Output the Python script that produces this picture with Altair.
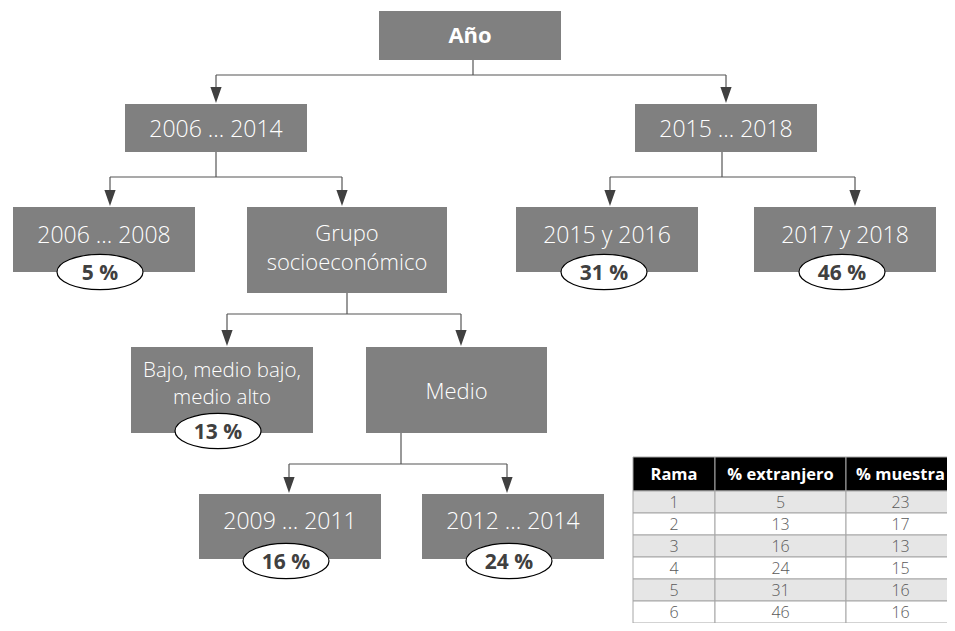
import altair as alt
import pandas as pd

# ---------------- data ----------------
node_ids = ["root", "a", "b", "a1", "a2", "b1", "b2", "a21", "a22", "a221", "a222"]
node_lines = [
    ["Año"],
    ["2006 ... 2014"],
    ["2015 ... 2018"],
    ["2006 ... 2008"],
    ["Grupo", "socioeconómico"],
    ["2015 y 2016"],
    ["2017 y 2018"],
    ["Bajo, medio bajo,", "medio alto"],
    ["Medio"],
    ["2009 ... 2011"],
    ["2012 ... 2014"],
]
children = {
    "root": ["a", "b"],
    "a": ["a1", "a2"],
    "b": ["b1", "b2"],
    "a2": ["a21", "a22"],
    "a22": ["a221", "a222"],
}
leaf_ids = ["a1", "a21", "a221", "a222", "b1", "b2"]
leaf_pct = [5, 13, 16, 24, 31, 46]

table_header = ["Rama", "% extranjero", "% muestra"]
rama = [1, 2, 3, 4, 5, 6]
pct_extranjero = [5, 13, 16, 24, 31, 46]
pct_muestra = [23, 17, 13, 15, 16, 16]

# ---------------- layout (page pixels) ----------------
box = {
    "root": (379, 561, 11, 60),
    "a": (125, 307, 104, 152),
    "b": (635, 817, 104, 152),
    "a1": (13, 195, 207, 272),
    "a2": (247, 447, 207, 293),
    "b1": (516, 698, 207, 272),
    "b2": (754, 936, 207, 272),
    "a21": (131, 313, 347, 433),
    "a22": (366, 547, 347, 433),
    "a221": (199, 381, 494, 559),
    "a222": (422, 604, 494, 559),
}
text_base = {
    "root": [43], "a": [137], "b": [137], "a1": [243], "a2": [241, 270],
    "b1": [243], "b2": [243], "a21": [377, 404], "a22": [399],
    "a221": [529], "a222": [529],
}
text_size = {"a2": 22, "a21": 20.5, "a22": 22}   # others 23
ellipse_c = {"a1": (100, 272), "a21": (218, 431), "a221": (286, 561),
             "a222": (509, 561), "b1": (604, 272), "b2": (842, 272)}
stem_x = {"root": 473, "a": 216, "b": 722, "a2": 347, "a22": 401}
bar_y = {"root": 75, "a": 177, "b": 177, "a2": 314, "a22": 464}
arrow_x = {"a": 216, "b": 726, "a1": 110, "a2": 342, "b1": 610, "b2": 855,
           "a21": 227, "a22": 461, "a221": 289, "a222": 507}
ARROW_H = 16

tbl_cols = [633, 715, 846, 955]
tbl_top = 457
tbl_head_h = 34
tbl_row_h = 22

# ---------------- build tables ----------------
rects = pd.DataFrame([{"id": i, "x0": box[i][0], "x1": box[i][1],
                       "y0": box[i][2], "y1": box[i][3]} for i in node_ids])

txt_rows = []
for nid, lines in zip(node_ids, node_lines):
    cx = (box[nid][0] + box[nid][1]) / 2
    for line, yb in zip(lines, text_base[nid]):
        txt_rows.append({"id": nid, "text": line, "x": cx, "y": yb,
                         "fs": text_size.get(nid, 23)})
txt = pd.DataFrame(txt_rows)
txt_bold = txt[txt["id"] == "root"]
txt_norm = txt[txt["id"] != "root"]

rule_rows = []
arrow_rows = []
for p, kids in children.items():
    pb = box[p][3]
    rule_rows.append({"x": stem_x[p], "x2": stem_x[p], "y": pb, "y2": bar_y[p]})
    xs = [arrow_x[k] for k in kids]
    rule_rows.append({"x": min(xs), "x2": max(xs), "y": bar_y[p], "y2": bar_y[p]})
    for k in kids:
        tip = box[k][2] - 1
        rule_rows.append({"x": arrow_x[k], "x2": arrow_x[k], "y": bar_y[p], "y2": tip - ARROW_H + 2})
        arrow_rows.append({"x": arrow_x[k], "y": tip - ARROW_H / 2})
rules = pd.DataFrame(rule_rows)
arrows = pd.DataFrame(arrow_rows)

ell = pd.DataFrame([{"x": ellipse_c[i][0], "y": ellipse_c[i][1],
                     "ty": ellipse_c[i][1] + 8, "label": f"{v} %"}
                    for i, v in zip(leaf_ids, leaf_pct)])

cells = []
ctext = []
for c in range(3):
    cx = (tbl_cols[c] + tbl_cols[c + 1]) / 2
    cells.append({"x0": tbl_cols[c], "x1": tbl_cols[c + 1], "y0": tbl_top,
                  "y1": tbl_top + tbl_head_h, "fill": "#000000"})
    ctext.append({"x": cx, "y": tbl_top + tbl_head_h / 2 + 6, "text": table_header[c], "head": True})
for r, vals in enumerate(zip(rama, pct_extranjero, pct_muestra)):
    y0 = tbl_top + tbl_head_h + r * tbl_row_h
    for c in range(3):
        cx = (tbl_cols[c] + tbl_cols[c + 1]) / 2
        cells.append({"x0": tbl_cols[c], "x1": tbl_cols[c + 1], "y0": y0,
                      "y1": y0 + tbl_row_h, "fill": "#e6e6e6" if r % 2 == 0 else "#ffffff"})
        ctext.append({"x": cx, "y": y0 + tbl_row_h / 2 + 5.5, "text": str(vals[c]), "head": False})
cells = pd.DataFrame(cells)
ctext = pd.DataFrame(ctext)

# ---------------- scales ----------------
W, H = 939, 615
XS = alt.Scale(domain=[8, 8 + W], range=[0, W], nice=False, zero=False)
YS = alt.Scale(domain=[8, 8 + H], range=[0, H], nice=False, zero=False)


def X(f):
    return alt.X(f, type="quantitative", scale=XS, axis=None)


def Y(f):
    return alt.Y(f, type="quantitative", scale=YS, axis=None)


FONT = "Open Sans"

rule_layer = alt.Chart(rules).mark_rule(color="#555555", strokeWidth=1.2).encode(
    x=X("x"), x2="x2", y=Y("y"), y2="y2")

arrow_path = "M -0.7 -1 L 0.7 -1 L 0 1 Z"
arrow_layer = alt.Chart(arrows).mark_point(
    shape=arrow_path, size=(ARROW_H ** 2), filled=True, fill="#404040",
    strokeWidth=0, opacity=1).encode(x=X("x"), y=Y("y"))

box_layer = alt.Chart(rects).mark_rect(color="#808080").encode(
    x=X("x0"), x2="x1", y=Y("y0"), y2="y1")

text_layer = alt.Chart(txt_norm).mark_text(
    font=FONT, fontWeight=300, color="#ffffff", align="center", baseline="alphabetic").encode(
    x=X("x"), y=Y("y"), text="text:N", size=alt.Size("fs:Q", scale=None))
bold_layer = alt.Chart(txt_bold).mark_text(
    font=FONT, fontSize=22, fontWeight="bold", color="#ffffff", align="center",
    baseline="alphabetic").encode(x=X("x"), y=Y("y"), text="text:N")

b, k = 0.41, 0.5523
bk = round(b * k, 4)
ell_path = (f"M 1 0 C 1 {bk} {k} {b} 0 {b} C {-k} {b} -1 {bk} -1 0 "
            f"C -1 {-bk} {-k} {-b} 0 {-b} C {k} {-b} 1 {-bk} 1 0 Z")
ell_layer = alt.Chart(ell).mark_point(
    shape=ell_path, size=86 ** 2, filled=True, fill="#ffffff", stroke="#000000",
    strokeWidth=1.2, opacity=1).encode(x=X("x"), y=Y("y"))
ell_text = alt.Chart(ell).mark_text(
    font=FONT, fontSize=21, fontWeight="bold", color="#404040", align="center",
    baseline="alphabetic").encode(x=X("x"), y=Y("ty"), text="label:N")

cell_layer = alt.Chart(cells).mark_rect(stroke="#a6a6a6", strokeWidth=1).encode(
    x=X("x0"), x2="x1", y=Y("y0"), y2="y1", fill=alt.Fill("fill:N", scale=None))
head_text = alt.Chart(ctext[ctext["head"]]).mark_text(
    font=FONT, fontSize=16.5, fontWeight="bold", color="#ffffff", align="center",
    baseline="alphabetic").encode(x=X("x"), y=Y("y"), text="text:N")
body_text = alt.Chart(ctext[~ctext["head"]]).mark_text(
    font=FONT, fontSize=16, fontWeight=300, color="#595959", align="center",
    baseline="alphabetic").encode(x=X("x"), y=Y("y"), text="text:N")

chart = alt.layer(
    rule_layer, arrow_layer, box_layer, text_layer, bold_layer,
    ell_layer, ell_text, cell_layer, head_text, body_text,
).properties(
    width=W, height=H, padding=0,
    autosize=alt.AutoSizeParams(type="none"),
).configure_view(strokeWidth=0)

chart.save("out.html", embed_options={"renderer": "svg", "actions": False})
